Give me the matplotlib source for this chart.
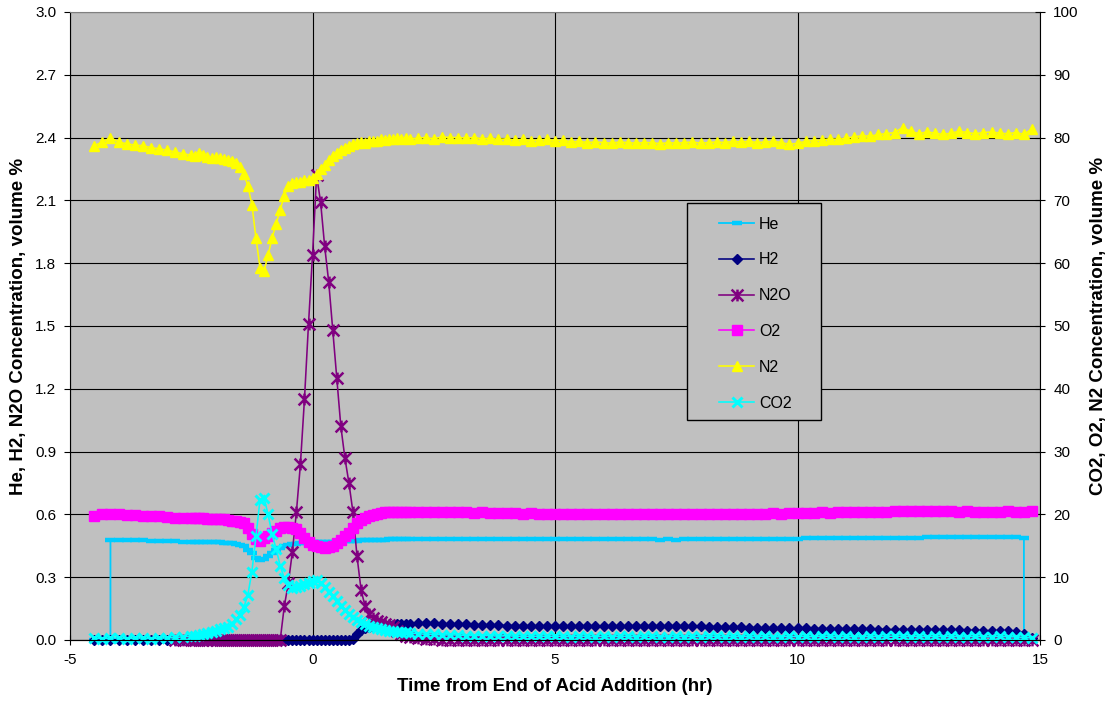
import numpy as np
import matplotlib
matplotlib.use('Agg')
import matplotlib.pyplot as plt
from matplotlib.patches import Rectangle
from matplotlib.path import Path

plt.rcParams['font.family'] = ['Liberation Sans', 'DejaVu Sans']
plt.rcParams['axes.unicode_minus'] = False

# sample times (hr): every 10 min away from the event, every 5 min around it
time_early = -4.5 + np.arange(12) / 6
time_event = -2.5 + np.arange(54) / 12
time_late = 2.0 + np.arange(78) / 6

# --- left axis gases (volume %) ---
he_early = [0.0, 0.0, 0.478, 0.478, 0.476, 0.477,
            0.476, 0.474, 0.474, 0.472, 0.472, 0.470]
he_event = [0.470, 0.469, 0.470, 0.468, 0.468, 0.467,
            0.466, 0.466, 0.465, 0.464, 0.462, 0.460,
            0.456, 0.448, 0.432, 0.415, 0.392, 0.380,
            0.385, 0.400, 0.415, 0.430, 0.440, 0.450,
            0.455, 0.458, 0.460, 0.462, 0.464, 0.465,
            0.466, 0.467, 0.468, 0.468, 0.469, 0.470,
            0.470, 0.471, 0.472, 0.473, 0.474, 0.475,
            0.476, 0.477, 0.477, 0.478, 0.478, 0.479,
            0.479, 0.480, 0.480, 0.480, 0.481, 0.481]
he_late = [0.482, 0.482, 0.483, 0.482, 0.483, 0.483,
           0.483, 0.484, 0.483, 0.483, 0.484, 0.484,
           0.483, 0.484, 0.484, 0.483, 0.484, 0.483,
           0.483, 0.482, 0.483, 0.482, 0.482, 0.481,
           0.481, 0.481, 0.480, 0.481, 0.480, 0.480,
           0.480, 0.479, 0.480, 0.479, 0.480, 0.480,
           0.480, 0.481, 0.481, 0.481, 0.482, 0.482,
           0.482, 0.483, 0.483, 0.483, 0.484, 0.484,
           0.484, 0.485, 0.485, 0.485, 0.486, 0.486,
           0.486, 0.487, 0.487, 0.487, 0.488, 0.488,
           0.488, 0.489, 0.489, 0.489, 0.490, 0.490,
           0.490, 0.490, 0.491, 0.490, 0.491, 0.491,
           0.491, 0.490, 0.491, 0.490, 0.488, 0.0]

h2_early = [0.0, 0.0, 0.0, 0.0, 0.0, 0.0,
            0.0, 0.0, 0.0, 0.0, 0.0, 0.0]
h2_event = [0.0, 0.0, 0.0, 0.0, 0.0, 0.0,
            0.0, 0.0, 0.0, 0.0, 0.0, 0.0,
            0.0, 0.0, 0.0, 0.0, 0.0, 0.0,
            0.0, 0.0, 0.0, 0.0, 0.0, 0.0,
            0.0, 0.0, 0.0, 0.0, 0.0, 0.0,
            0.0, 0.0, 0.0, 0.0, 0.0, 0.0,
            0.0, 0.0, 0.0, 0.0, 0.005, 0.030,
            0.050, 0.058, 0.062, 0.065, 0.067, 0.069,
            0.070, 0.072, 0.073, 0.075, 0.076, 0.077]
h2_late = [0.078, 0.080, 0.081, 0.080, 0.078, 0.076,
           0.075, 0.074, 0.073, 0.072, 0.071, 0.070,
           0.069, 0.069, 0.068, 0.068, 0.067, 0.067,
           0.067, 0.066, 0.066, 0.066, 0.066, 0.066,
           0.066, 0.067, 0.067, 0.067, 0.068, 0.068,
           0.068, 0.068, 0.067, 0.067, 0.066, 0.066,
           0.065, 0.064, 0.063, 0.062, 0.061, 0.060,
           0.059, 0.058, 0.058, 0.057, 0.056, 0.056,
           0.055, 0.055, 0.054, 0.054, 0.053, 0.053,
           0.052, 0.052, 0.051, 0.051, 0.050, 0.050,
           0.049, 0.049, 0.048, 0.048, 0.047, 0.047,
           0.046, 0.046, 0.046, 0.045, 0.045, 0.045,
           0.044, 0.044, 0.044, 0.040, 0.030, 0.010]

n2o_early = [np.nan, np.nan, np.nan, np.nan, np.nan, np.nan,
             np.nan, np.nan, np.nan, np.nan, 0.0, 0.0]
n2o_event = [0.0, 0.0, 0.0, 0.0, 0.0, 0.0,
             0.0, 0.0, 0.0, 0.0, 0.0, 0.0,
             0.0, 0.0, 0.0, 0.0, 0.0, 0.0,
             0.0, 0.0, 0.0, 0.0, 0.0, 0.16,
             0.27, 0.42, 0.61, 0.84, 1.15, 1.51,
             1.84, 2.22, 2.09, 1.88, 1.71, 1.48,
             1.25, 1.02, 0.87, 0.75, 0.61, 0.40,
             0.24, 0.16, 0.125, 0.105, 0.092, 0.085,
             0.078, 0.070, 0.060, 0.045, 0.030, 0.020]
n2o_late = [0.012, 0.008, 0.005, 0.003, 0.002, 0.001,
            0.0, 0.0, 0.0, 0.0, 0.0, 0.0,
            0.0, 0.0, 0.0, 0.0, 0.0, 0.0,
            0.0, 0.0, 0.0, 0.0, 0.0, 0.0,
            0.0, 0.0, 0.0, 0.0, 0.0, 0.0,
            0.0, 0.0, 0.0, 0.0, 0.0, 0.0,
            0.0, 0.0, 0.0, 0.0, 0.0, 0.0,
            0.0, 0.0, 0.0, 0.0, 0.0, 0.0,
            0.0, 0.0, 0.0, 0.0, 0.0, 0.0,
            0.0, 0.0, 0.0, 0.0, 0.0, 0.0,
            0.0, 0.0, 0.0, 0.0, 0.0, 0.0,
            0.0, 0.0, 0.0, 0.0, 0.0, 0.0,
            0.0, 0.0, 0.0, 0.0, 0.0, 0.0]

# --- right axis gases (volume %) ---
o2_early = [19.8, 20.0, 20.0, 20.0, 19.9, 19.9,
            19.8, 19.8, 19.7, 19.6, 19.5, 19.5]
o2_event = [19.4, 19.4, 19.5, 19.4, 19.3, 19.3,
            19.3, 19.2, 19.2, 19.1, 19.0, 18.9,
            18.8, 18.6, 17.9, 16.9, 16.0, 15.8,
            16.2, 16.6, 17.0, 17.4, 17.8, 18.0,
            18.0, 17.9, 17.6, 17.0, 16.3, 15.6,
            15.1, 14.9, 14.8, 14.7, 14.8, 15.0,
            15.4, 15.9, 16.5, 17.1, 17.9, 18.6,
            19.1, 19.4, 19.7, 19.9, 20.1, 20.2,
            20.3, 20.3, 20.4, 20.4, 20.4, 20.4]
o2_late = [20.4, 20.4, 20.3, 20.4, 20.3, 20.3,
           20.3, 20.3, 20.2, 20.3, 20.2, 20.2,
           20.2, 20.2, 20.1, 20.2, 20.1, 20.1,
           20.1, 20.1, 20.1, 20.0, 20.1, 20.0,
           20.0, 20.0, 20.1, 20.0, 20.0, 20.0,
           20.0, 20.1, 20.0, 20.0, 20.1, 20.0,
           20.0, 20.0, 20.1, 20.1, 20.0, 20.1,
           20.1, 20.1, 20.1, 20.2, 20.1, 20.2,
           20.2, 20.2, 20.2, 20.3, 20.2, 20.3,
           20.3, 20.3, 20.4, 20.3, 20.4, 20.4,
           20.5, 20.6, 20.5, 20.5, 20.6, 20.5,
           20.5, 20.5, 20.4, 20.5, 20.4, 20.4,
           20.4, 20.4, 20.5, 20.4, 20.4, 20.5]

n2_early = [78.7, 79.3, 80.0, 79.3, 79.0, 78.8,
            78.7, 78.4, 78.2, 78.0, 77.7, 77.4]
n2_event = [77.2, 77.0, 77.5, 77.3, 76.9, 76.7,
            76.9, 76.8, 76.6, 76.5, 76.3, 76.0,
            75.3, 74.2, 72.3, 69.3, 64.0, 59.3,
            58.7, 61.3, 64.0, 66.3, 68.5, 70.7,
            72.3, 72.7, 72.9, 73.0, 73.2, 73.3,
            73.6, 74.2, 75.0, 75.7, 76.4, 77.0,
            77.6, 78.0, 78.3, 78.7, 79.0, 79.1,
            79.3, 79.2, 79.4, 79.5, 79.5, 79.7,
            79.6, 79.8, 79.7, 79.9, 79.8, 79.9]
n2_late = [79.8, 79.9, 80.0, 79.8, 80.1, 80.0,
           80.0, 79.9, 80.0, 79.8, 79.9, 79.7,
           79.8, 79.6, 79.7, 79.5, 79.6, 79.7,
           79.5, 79.6, 79.3, 79.4, 79.2, 79.3,
           79.2, 79.1, 79.3, 79.2, 79.1, 79.2,
           79.2, 79.0, 79.2, 79.1, 79.2, 79.3,
           79.1, 79.2, 79.3, 79.2, 79.4, 79.3,
           79.4, 79.2, 79.3, 79.4, 79.2, 78.9,
           79.1, 79.4, 79.5, 79.6, 79.8, 79.7,
           79.9, 80.1, 80.3, 80.2, 80.5, 80.6,
           80.8, 81.6, 81.0, 80.6, 80.9, 80.7,
           80.5, 80.7, 81.0, 80.8, 80.6, 80.8,
           80.9, 80.7, 80.6, 80.8, 80.5, 81.4]

co2_early = [0.3, 0.2, 0.3, 0.3, 0.2, 0.3,
             0.3, 0.2, 0.3, 0.3, 0.4, 0.5]
co2_event = [0.6, 0.7, 0.8, 0.9, 1.1, 1.3,
             1.5, 1.7, 1.9, 2.1, 2.6, 3.3,
             4.0, 5.2, 7.2, 10.9, 16.5, 22.3,
             22.6, 20.0, 16.8, 14.5, 11.8, 9.8,
             8.7, 8.3, 8.5, 8.6, 8.9, 9.1,
             9.4, 9.6, 9.0, 8.4, 7.7, 7.0,
             6.2, 5.4, 4.8, 4.2, 3.6, 3.2,
             2.9, 2.6, 2.3, 2.1, 1.9, 1.7,
             1.6, 1.5, 1.4, 1.3, 1.3, 1.2]
co2_late = [1.1, 1.0, 0.9, 0.9, 0.8, 0.8,
            0.8, 0.7, 0.7, 0.7, 0.7, 0.6,
            0.7, 0.6, 0.6, 0.6, 0.6, 0.6,
            0.6, 0.6, 0.5, 0.6, 0.6, 0.5,
            0.6, 0.5, 0.6, 0.6, 0.5, 0.6,
            0.6, 0.5, 0.5, 0.6, 0.5, 0.6,
            0.5, 0.6, 0.6, 0.5, 0.6, 0.5,
            0.6, 0.5, 0.6, 0.5, 0.5, 0.6,
            0.5, 0.6, 0.5, 0.6, 0.6, 0.5,
            0.6, 0.5, 0.5, 0.6, 0.5, 0.6,
            0.6, 0.6, 0.5, 0.6, 0.5, 0.6,
            0.5, 0.6, 0.5, 0.5, 0.6, 0.5,
            0.5, 0.6, 0.5, 0.5, 0.4, 0.3]

time = np.concatenate([time_early, time_event, time_late])
he = np.concatenate([he_early, he_event, he_late])
h2 = np.concatenate([h2_early, h2_event, h2_late])
n2o = np.concatenate([n2o_early, n2o_event, n2o_late])
o2 = np.concatenate([o2_early, o2_event, o2_late])
n2 = np.concatenate([n2_early, n2_event, n2_late])
co2 = np.concatenate([co2_early, co2_event, co2_late])

# He analyser switches on/off: repeat the switch times so the steps are vertical
he_t = np.concatenate([time[:3], time[2:-1], time[-2:]])
he_v = np.concatenate([he[:2], [0.0], he[2:-1], [0.0], he[-1:]])

# Excel style asterisk marker (X with a vertical bar)
star = Path([(-1, -1), (1, 1), (-1, 1), (1, -1), (0, -1), (0, 1)],
            [Path.MOVETO, Path.LINETO, Path.MOVETO, Path.LINETO,
             Path.MOVETO, Path.LINETO])

fig = plt.figure(figsize=(11.1, 7.07), dpi=100)
ax = fig.add_axes([0.0631, 0.0948, 0.8739, 0.8883])
ax2 = ax.twinx()

ax.set_facecolor('#C0C0C0')
lw = 1.15
l_he, = ax.plot(he_t, he_v, color='#00CCFF', lw=1.3, marker='_', ms=7, mew=3.2,
                clip_on=False, label='He')
l_h2, = ax.plot(time, h2, color='#000080', lw=lw, marker='D', ms=5,
                clip_on=False, label='H2')
l_n2o, = ax.plot(time, n2o, color='#800080', lw=lw, marker=star, ms=8.5, mew=1.8,
                 clip_on=False, label='N2O')
l_o2, = ax2.plot(time, o2, color='#FF00FF', lw=lw, marker='s', ms=7,
                 clip_on=False, label='O2')
l_n2, = ax2.plot(time, n2, color='#FFFF00', lw=lw, marker='^', ms=7.5,
                 clip_on=False, label='N2')
l_co2, = ax2.plot(time, co2, color='#00FFFF', lw=lw, marker='x', ms=6.5, mew=2.1,
                  clip_on=False, label='CO2')

ax.set_xlim(-5, 15)
ax.set_ylim(0, 3.0)
ax2.set_ylim(0, 100)
ax.set_xticks([-5, 0, 5, 10, 15])
ax.set_yticks(np.arange(0, 3.01, 0.3))
ax.set_yticklabels(['%.1f' % v for v in np.arange(0, 3.01, 0.3)])
ax2.set_yticks(np.arange(0, 101, 10))

ax.grid(True, color='black', lw=0.8)
ax.spines['top'].set_color('#808080')
ax2.spines['top'].set_visible(False)
ax2.spines['left'].set_visible(False)
ax.spines['right'].set_visible(False)

ax.tick_params(axis='y', direction='out', length=4, width=0.8, labelsize=11, pad=6)
ax.tick_params(axis='x', direction='inout', length=7, width=0.8, labelsize=11, pad=6)
ax2.tick_params(axis='y', direction='inout', length=7, width=0.8, labelsize=11, pad=6)

ax.set_xlabel('Time from End of Acid Addition (hr)', fontsize=13.5, fontweight='bold', labelpad=8)
ax.set_ylabel('He, H2, N2O Concentration, volume %', fontsize=13.5, fontweight='bold', labelpad=6)
ax2.set_ylabel('CO2, O2, N2 Concentration, volume %', fontsize=13.5, fontweight='bold', labelpad=8)

box = Rectangle((0.6361, 0.3503), 0.1381, 0.3455, transform=ax2.transAxes,
                facecolor='#C0C0C0', edgecolor='black', lw=1, zorder=10)
ax2.add_patch(box)
leg = ax2.legend([l_he, l_h2, l_n2o, l_o2, l_n2, l_co2],
                 ['He', 'H2', 'N2O', 'O2', 'N2', 'CO2'],
                 loc='upper left', bbox_to_anchor=(0.669, 0.674), frameon=False,
                 fontsize=11.5, numpoints=1, handlelength=2.2, handletextpad=0.3,
                 labelspacing=1.30, borderpad=0, borderaxespad=0)
leg.set_zorder(11)
ax2.set_ylim(0, 100)

fig.savefig('out.png', dpi=100)
